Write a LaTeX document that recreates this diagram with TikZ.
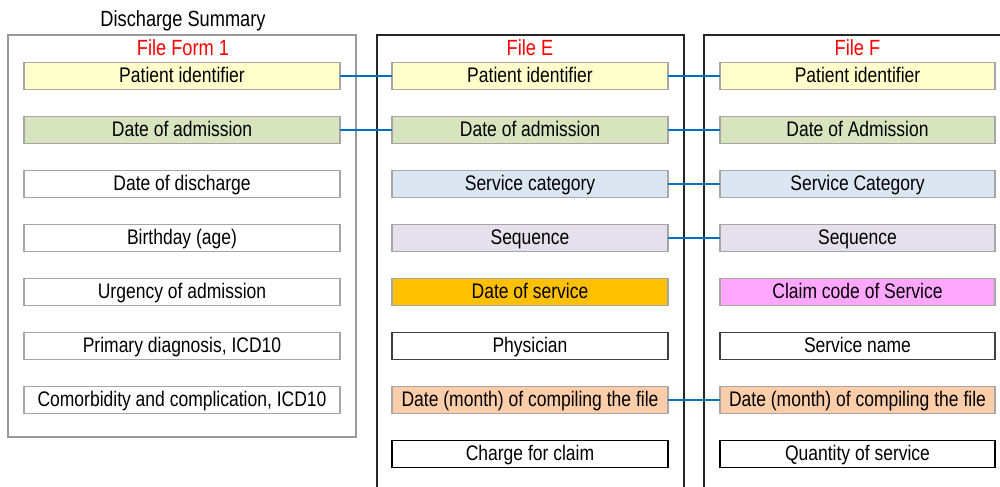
\documentclass[tikz,border=0pt]{standalone}
\usepackage{fontspec}
\setmainfont{Liberation Sans}[FakeStretch=0.83]
\usepackage{tikz}
\usepackage{xcolor}
\usetikzlibrary{positioning}
\definecolor{FYellow}{HTML}{FFFFCC}
\definecolor{FGreen}{HTML}{D7E4BD}
\definecolor{FBlue}{HTML}{DCE6F2}
\definecolor{FLilac}{HTML}{E6E0EC}
\definecolor{FOrange}{HTML}{FFC000}
\definecolor{FPink}{HTML}{FFA6FF}
\definecolor{FPeach}{HTML}{FBCDA8}
\definecolor{FLink}{HTML}{0070C0}
\definecolor{FRed}{HTML}{FF0000}

\begin{document}
\begin{tikzpicture}[
  node distance=0.54cm,
  field/.style={draw=gray!70,fill=white,line width=0.7pt,minimum height=0.54cm,inner sep=0pt,outer sep=0pt,text height=9.8pt,text depth=2pt,align=center,font=\fontsize{12}{14}\selectfont},
  lfield/.style={field,minimum width=6.32cm},
  mfield/.style={field,minimum width=5.52cm},
  rfield/.style={field,minimum width=5.5cm},
  title/.style={text=FRed,font=\fontsize{12.5}{14}\selectfont},
  link/.style={draw=FLink,line width=1.3pt}
]
\useasboundingbox (0,0) rectangle (20,9.72);
% containers
\draw[gray!80,line width=0.8pt] (0.16,0.98) rectangle (7.12,9.02);
\draw[black!85,line width=0.8pt] (7.54,-0.1) -- (7.54,9.02) -- (13.68,9.02) -- (13.68,-0.1);
\draw[black!85,line width=0.8pt] (14.08,-0.1) -- (14.08,9.02) -- (20.1,9.02);
\node[font=\fontsize{12.5}{14}\selectfont] (summary) at (3.66,9.3) {Discharge Summary};
\node[title] (form1) at (3.66,8.76) {File Form 1};
\node[title] (filee) at (10.6,8.76) {File E};
\node[title] (filef) at (17.15,8.76) {File F};
% File Form 1
\node[lfield,fill=FYellow] (l1) at (3.64,8.2) {Patient identifier};
\node[lfield,fill=FGreen,below=of l1] (l2) {Date of admission};
\node[lfield,below=of l2] (l3) {Date of discharge};
\node[lfield,below=of l3] (l4) {Birthday (age)};
\node[lfield,below=of l4] (l5) {Urgency of admission};
\node[lfield,below=of l5] (l6) {Primary diagnosis, ICD10};
\node[lfield,below=of l6] (l7) {Comorbidity and complication, ICD10};
% File E
\node[mfield,fill=FYellow] (e1) at (10.6,8.2) {Patient identifier};
\node[mfield,fill=FGreen,below=of e1] (e2) {Date of admission};
\node[mfield,fill=FBlue,below=of e2] (e3) {Service category};
\node[mfield,fill=FLilac,below=of e3] (e4) {Sequence};
\node[mfield,fill=FOrange,below=of e4] (e5) {Date of service};
\node[mfield,draw=black!75,below=of e5] (e6) {Physician};
\node[mfield,fill=FPeach,below=of e6] (e7) {Date (month) of compiling the file};
\node[mfield,draw=black,below=of e7] (e8) {Charge for claim};
% File F
\node[rfield,fill=FYellow] (f1) at (17.15,8.2) {Patient identifier};
\node[rfield,fill=FGreen,below=of f1] (f2) {Date of Admission};
\node[rfield,fill=FBlue,below=of f2] (f3) {Service Category};
\node[rfield,fill=FLilac,below=of f3] (f4) {Sequence};
\node[rfield,fill=FPink,below=of f4] (f5) {Claim code of Service};
\node[rfield,draw=black!75,below=of f5] (f6) {Service name};
\node[rfield,fill=FPeach,below=of f6] (f7) {Date (month) of compiling the file};
\node[rfield,draw=black,below=of f7] (f8) {Quantity of service};
% links
\draw[link] (l1) -- (e1);
\draw[link] (l2) -- (e2);
\draw[link] (e1) -- (f1);
\draw[link] (e2) -- (f2);
\draw[link] (e3) -- (f3);
\draw[link] (e4) -- (f4);
\draw[link] (e7) -- (f7);
\end{tikzpicture}
\end{document}
